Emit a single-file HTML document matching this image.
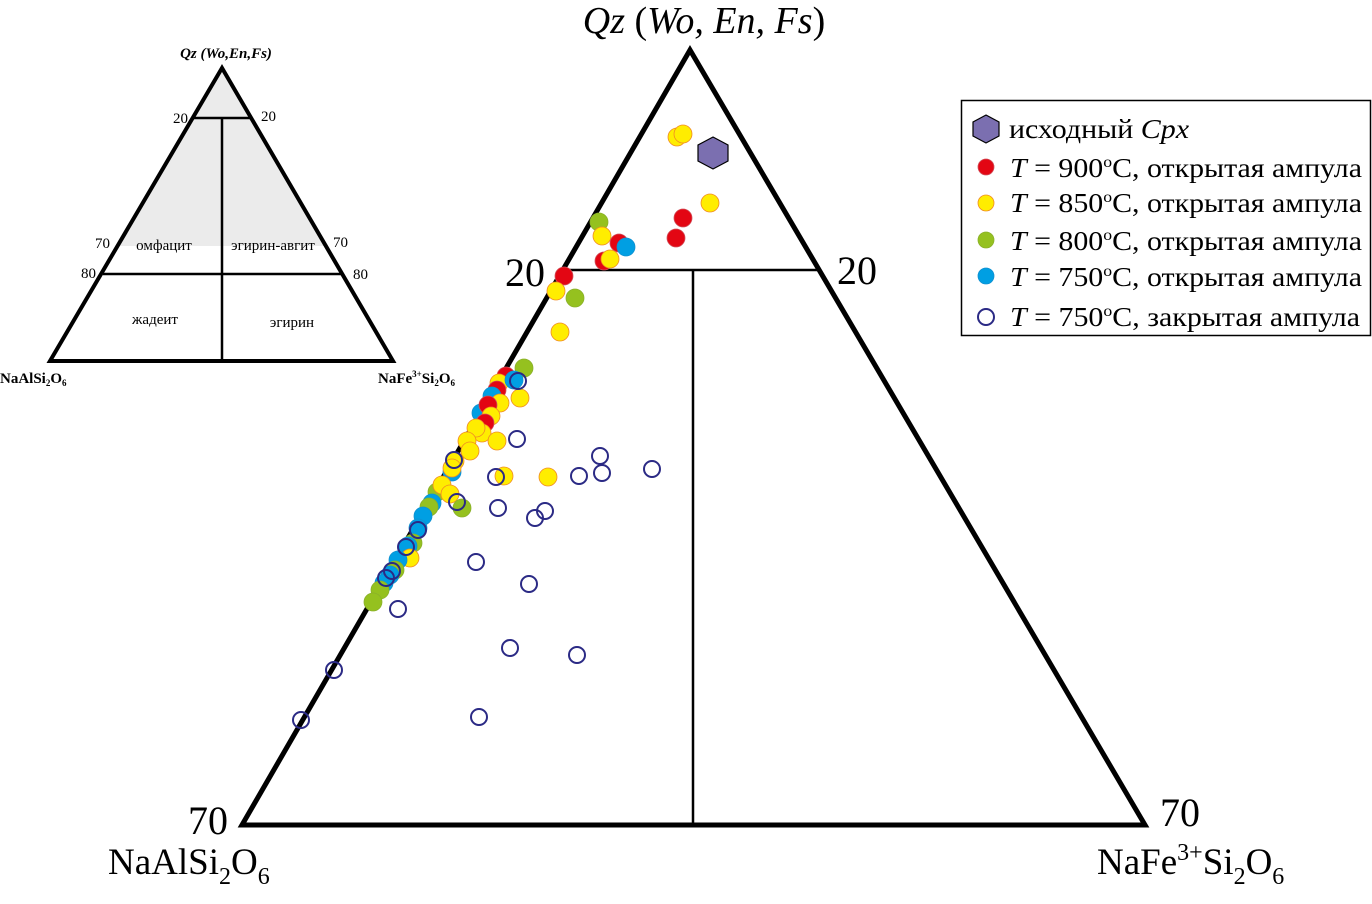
<!DOCTYPE html>
<html><head><meta charset="utf-8"><style>
html,body{margin:0;padding:0;background:#fff}
svg{display:block;font-family:"Liberation Serif","Noto Serif CJK SC",serif}
.r{fill:#e30613;stroke:#d0505a;stroke-width:0.8}
.y{fill:#ffed00;stroke:#f08a24;stroke-width:0.8}
.g{fill:#95c11f;stroke:#8ab02a;stroke-width:0.8}
.b{fill:#009fe3;stroke:#1090d0;stroke-width:0.8}
.o{fill:none;stroke:#2b2a85;stroke-width:2}
</style></head><body>
<svg width="1372" height="904" viewBox="0 0 1372 904">
<!-- inset -->
<polygon points="222,68 118,246 326,246" fill="#ebebeb"/>
<polygon points="222,68 50,361 393,361" fill="none" stroke="#000" stroke-width="4"/>
<line x1="193" y1="118" x2="250" y2="118" stroke="#000" stroke-width="2.5"/>
<line x1="103" y1="274" x2="343" y2="274" stroke="#000" stroke-width="2.5"/>
<line x1="222" y1="118" x2="222" y2="361" stroke="#000" stroke-width="2.5"/>
<text x="226" y="58" font-size="15" font-weight="bold" font-style="italic" text-anchor="middle">Qz (Wo,En,Fs)</text>
<text x="188" y="123" font-size="15" text-anchor="end">20</text>
<text x="261" y="121" font-size="15">20</text>
<text x="110" y="248" font-size="15" text-anchor="end">70</text>
<text x="333" y="247" font-size="15">70</text>
<text x="96" y="278" font-size="15" text-anchor="end">80</text>
<text x="353" y="279" font-size="15">80</text>
<text x="164" y="250" font-size="15" text-anchor="middle">омфацит</text>
<text x="273" y="250" font-size="15" text-anchor="middle">эгирин-авгит</text>
<text x="155" y="324" font-size="15" text-anchor="middle">жадеит</text>
<text x="292" y="327" font-size="15" text-anchor="middle">эгирин</text>
<text x="0" y="383" font-size="15" font-weight="bold">NaAlSi<tspan font-size="9" dy="3">2</tspan><tspan dy="-3">O</tspan><tspan font-size="9" dy="3">6</tspan></text>
<text x="378" y="383" font-size="15" font-weight="bold">NaFe<tspan font-size="9" dy="-6">3+</tspan><tspan dy="6">Si</tspan><tspan font-size="9" dy="3">2</tspan><tspan dy="-3">O</tspan><tspan font-size="9" dy="3">6</tspan></text>
<!-- main triangle -->
<polygon points="690,50 242,825 1145,825" fill="none" stroke="#000" stroke-width="5"/>
<line x1="560" y1="270" x2="820" y2="270" stroke="#000" stroke-width="2.5"/>
<line x1="693" y1="270" x2="693" y2="825" stroke="#000" stroke-width="2.5"/>
<text x="704" y="33" font-size="38" text-anchor="middle"><tspan font-style="italic">Qz</tspan> (<tspan font-style="italic">Wo, En, Fs</tspan>)</text>
<text x="545" y="286" font-size="40" text-anchor="end">20</text>
<text x="837" y="284" font-size="40">20</text>
<text x="228" y="834" font-size="40" text-anchor="end">70</text>
<text x="1160" y="826" font-size="40">70</text>
<text x="108" y="874" font-size="37">NaAlSi<tspan font-size="24" dy="10">2</tspan><tspan dy="-10">O</tspan><tspan font-size="24" dy="10">6</tspan></text>
<text x="1097" y="874" font-size="37">NaFe<tspan font-size="24" dy="-14">3+</tspan><tspan dy="14">Si</tspan><tspan font-size="24" dy="10">2</tspan><tspan dy="-10">O</tspan><tspan font-size="24" dy="10">6</tspan></text>
<!-- data -->
<g>
<circle class="y" cx="677" cy="137" r="9"/><circle class="y" cx="683" cy="134" r="9"/>
<circle class="y" cx="710" cy="203" r="9"/>
<circle class="g" cx="599" cy="222" r="9"/><circle class="y" cx="602" cy="236" r="9"/>
<circle class="r" cx="683" cy="218" r="9"/><circle class="r" cx="676" cy="238" r="9"/>
<circle class="r" cx="619" cy="243" r="9"/><circle class="b" cx="626" cy="247" r="9"/>
<circle class="r" cx="604" cy="261" r="9"/><circle class="y" cx="610" cy="259" r="9"/>
<circle class="r" cx="564" cy="276" r="9"/><circle class="y" cx="556" cy="291" r="9"/>
<circle class="g" cx="575" cy="298" r="9"/><circle class="y" cx="560" cy="332" r="9"/>
<circle class="g" cx="524" cy="368" r="9"/><circle class="r" cx="506" cy="376" r="9"/>
<circle class="y" cx="499" cy="383" r="9"/><circle class="b" cx="514" cy="380" r="9"/>
<circle class="y" cx="520" cy="398" r="9"/><circle class="r" cx="497" cy="390" r="9"/>
<circle class="b" cx="492" cy="396" r="9"/><circle class="y" cx="500" cy="403" r="9"/>
<circle class="b" cx="481" cy="413" r="9"/><circle class="r" cx="488" cy="405" r="9"/>
<circle class="y" cx="491" cy="416" r="9"/><circle class="r" cx="485" cy="423" r="9"/>
<circle class="y" cx="482" cy="433" r="9"/><circle class="y" cx="476" cy="428" r="9"/>
<circle class="y" cx="467" cy="441" r="9"/><circle class="y" cx="497" cy="441" r="9"/>
<circle class="y" cx="470" cy="451" r="9"/><circle class="y" cx="455" cy="461" r="9"/>
<circle class="b" cx="452" cy="472" r="9"/><circle class="y" cx="452" cy="468" r="9"/>
<circle class="y" cx="504" cy="476" r="9"/><circle class="y" cx="548" cy="477" r="9"/>
<circle class="g" cx="437" cy="492" r="9"/><circle class="y" cx="442" cy="485" r="9"/>
<circle class="y" cx="450" cy="494" r="9"/><circle class="g" cx="462" cy="508" r="9"/>
<circle class="b" cx="432" cy="503" r="9"/><circle class="g" cx="429" cy="507" r="9"/>
<circle class="b" cx="423" cy="516" r="9"/><circle class="b" cx="418" cy="528" r="9"/>
<circle class="g" cx="413" cy="543" r="9"/><circle class="b" cx="408" cy="546" r="9"/>
<circle class="y" cx="410" cy="558" r="9"/><circle class="b" cx="398" cy="560" r="9"/>
<circle class="g" cx="395" cy="570" r="9"/><circle class="b" cx="390" cy="575" r="9"/>
<circle class="b" cx="384" cy="583" r="9"/><circle class="g" cx="380" cy="590" r="9"/>
<circle class="g" cx="373" cy="602" r="9"/>
</g>
<g>
<circle class="o" cx="518" cy="381" r="8"/><circle class="o" cx="517" cy="439" r="8"/>
<circle class="o" cx="600" cy="456" r="8"/><circle class="o" cx="652" cy="469" r="8"/>
<circle class="o" cx="496" cy="477" r="8"/><circle class="o" cx="579" cy="476" r="8"/>
<circle class="o" cx="602" cy="473" r="8"/><circle class="o" cx="457" cy="502" r="8"/>
<circle class="o" cx="498" cy="508" r="8"/><circle class="o" cx="545" cy="511" r="8"/>
<circle class="o" cx="535" cy="518" r="8"/><circle class="o" cx="406" cy="547" r="8"/>
<circle class="o" cx="418" cy="530" r="8"/><circle class="o" cx="386" cy="578" r="8"/>
<circle class="o" cx="392" cy="571" r="8"/><circle class="o" cx="398" cy="609" r="8"/>
<circle class="o" cx="476" cy="562" r="8"/><circle class="o" cx="529" cy="584" r="8"/>
<circle class="o" cx="510" cy="648" r="8"/><circle class="o" cx="577" cy="655" r="8"/>
<circle class="o" cx="334" cy="670" r="8"/><circle class="o" cx="301" cy="720" r="8"/>
<circle class="o" cx="479" cy="717" r="8"/>
<circle class="o" cx="454" cy="460" r="8"/>
</g>
<polygon points="713,137 728,145 728,161 713,169 698,161 698,145" fill="#7b6fb0" stroke="#000" stroke-width="1.2"/>
<!-- legend -->
<rect x="961.5" y="100.5" width="409" height="235" fill="#fff" stroke="#000" stroke-width="1.5"/>
<polygon points="986,115 999,122 999,136 986,143 973,136 973,122" fill="#7b6fb0" stroke="#000" stroke-width="1.2"/>
<circle class="r" cx="986" cy="167" r="8"/>
<circle class="y" cx="986" cy="203" r="8"/>
<circle class="g" cx="986" cy="240" r="8"/>
<circle class="b" cx="986" cy="276" r="8"/>
<circle class="o" cx="986" cy="317" r="8" stroke-width="1.5"/>
<g font-size="27">
<text x="1009" y="138" textLength="180" lengthAdjust="spacingAndGlyphs">исходный <tspan font-style="italic">Cpx</tspan></text>
<text x="1010" y="177" textLength="352" lengthAdjust="spacingAndGlyphs"><tspan font-style="italic">T</tspan> = 900<tspan font-size="16" dy="-10">o</tspan><tspan dy="10">C, открытая ампула</tspan></text>
<text x="1010" y="212" textLength="352" lengthAdjust="spacingAndGlyphs"><tspan font-style="italic">T</tspan> = 850<tspan font-size="16" dy="-10">o</tspan><tspan dy="10">C, открытая ампула</tspan></text>
<text x="1010" y="250" textLength="352" lengthAdjust="spacingAndGlyphs"><tspan font-style="italic">T</tspan> = 800<tspan font-size="16" dy="-10">o</tspan><tspan dy="10">C, открытая ампула</tspan></text>
<text x="1010" y="286" textLength="352" lengthAdjust="spacingAndGlyphs"><tspan font-style="italic">T</tspan> = 750<tspan font-size="16" dy="-10">o</tspan><tspan dy="10">C, открытая ампула</tspan></text>
<text x="1010" y="326" textLength="350" lengthAdjust="spacingAndGlyphs"><tspan font-style="italic">T</tspan> = 750<tspan font-size="16" dy="-10">o</tspan><tspan dy="10">C, закрытая ампула</tspan></text>
</g>
</svg>
</body></html>
